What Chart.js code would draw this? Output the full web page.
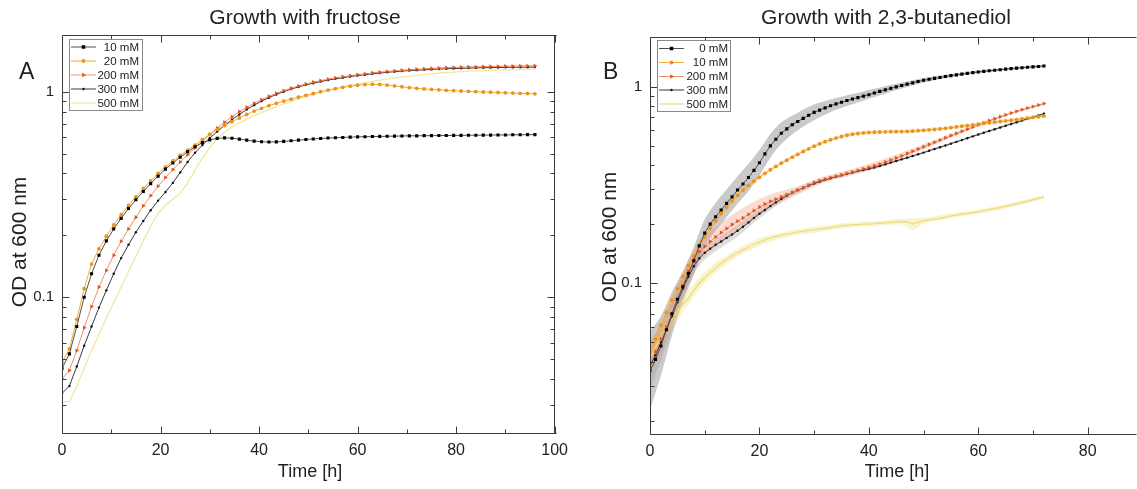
<!DOCTYPE html>
<html><head><meta charset="utf-8">
<script src="https://cdn.jsdelivr.net/npm/chart.js@4.4.0/dist/chart.umd.min.js"></script>
<style>
html,body{margin:0;padding:0;background:#fff;width:1137px;height:489px;overflow:hidden}
canvas{position:absolute;top:0}
#ca{left:0}
#cb{left:590px}
</style></head><body>
<canvas id="ca" width="575" height="489"></canvas>
<canvas id="cb" width="547" height="489"></canvas>
<script>
// ---------------- Panel A: growth with fructose ----------------
const tA = [0,1.5,3,4.5,6,7.5,9,10.5,12,13.5,15,16.5,18,19.5,21,22.5,24,25.5,27,28.5,30,31.5,33,34.5,36,37.5,39,40.5,42,43.5,45,46.5,48,49.5,51,52.5,54,55.5,57,58.5,60,61.5,63,64.5,66,67.5,69,70.5,72,73.5,75,76.5,78,79.5,81,82.5,84,85.5,87,88.5,90,91.5,93,94.5,96];
const a10 = [0.045,0.053,0.072,0.1,0.13,0.16,0.188,0.215,0.242,0.27,0.298,0.327,0.357,0.388,0.42,0.45,0.48,0.51,0.54,0.565,0.583,0.593,0.596,0.594,0.588,0.581,0.575,0.571,0.569,0.57,0.573,0.577,0.581,0.585,0.589,0.592,0.595,0.597,0.599,0.601,0.603,0.604,0.605,0.606,0.607,0.608,0.609,0.61,0.61,0.611,0.611,0.612,0.612,0.613,0.613,0.614,0.614,0.615,0.615,0.616,0.616,0.617,0.617,0.618,0.618];
const a20 = [0.048,0.056,0.078,0.11,0.145,0.172,0.198,0.225,0.252,0.28,0.308,0.338,0.368,0.4,0.43,0.46,0.49,0.52,0.55,0.585,0.62,0.655,0.685,0.715,0.745,0.775,0.805,0.83,0.855,0.878,0.9,0.92,0.94,0.96,0.98,1.0,1.018,1.035,1.05,1.064,1.075,1.083,1.087,1.085,1.077,1.067,1.057,1.047,1.039,1.032,1.026,1.021,1.016,1.012,1.008,1.004,1.0,0.997,0.994,0.991,0.988,0.985,0.982,0.98,0.977];
const a200 = [0.04,0.044,0.055,0.071,0.09,0.112,0.135,0.16,0.187,0.215,0.245,0.278,0.312,0.347,0.382,0.418,0.455,0.493,0.533,0.575,0.62,0.665,0.71,0.755,0.8,0.84,0.878,0.915,0.95,0.982,1.012,1.04,1.066,1.09,1.112,1.132,1.151,1.168,1.183,1.197,1.21,1.222,1.234,1.245,1.255,1.264,1.272,1.279,1.286,1.292,1.298,1.303,1.308,1.312,1.316,1.319,1.322,1.325,1.327,1.329,1.331,1.333,1.334,1.335,1.336];
const a300 = [0.034,0.037,0.046,0.058,0.072,0.089,0.108,0.13,0.155,0.18,0.207,0.235,0.265,0.295,0.325,0.36,0.405,0.455,0.505,0.55,0.595,0.64,0.685,0.73,0.775,0.82,0.86,0.9,0.935,0.97,1.0,1.03,1.055,1.08,1.1,1.12,1.14,1.155,1.17,1.185,1.198,1.21,1.222,1.233,1.243,1.252,1.26,1.267,1.273,1.279,1.284,1.289,1.293,1.297,1.3,1.303,1.306,1.308,1.31,1.312,1.314,1.315,1.316,1.317,1.318];
const a500 = [0.031,0.031,0.037,0.045,0.055,0.066,0.079,0.094,0.112,0.133,0.158,0.188,0.222,0.255,0.28,0.3,0.32,0.36,0.415,0.475,0.535,0.59,0.635,0.672,0.705,0.735,0.765,0.79,0.818,0.845,0.872,0.898,0.922,0.946,0.968,0.99,1.012,1.032,1.052,1.072,1.09,1.107,1.123,1.138,1.152,1.165,1.178,1.19,1.2,1.21,1.22,1.23,1.238,1.246,1.253,1.259,1.264,1.268,1.272,1.275,1.278,1.28,1.282,1.284,1.285];
const labelsA = ['10 mM','20 mM','200 mM','300 mM','500 mM'];
const titleA = 'Growth with fructose';

// ---------------- Panel B: growth with 2,3-butanediol ----------------
const tB = [0,1,2,3,4,5,6,7,8,9,10,11,12,13,14,15,16,17,18,19,20,21,22,23,24,25,26,27,28,29,30,31,32,33,34,35,36,37,38,39,40,41,42,43,44,45,46,47,48,49,50,51,52,53,54,55,56,57,58,59,60,61,62,63,64,65,66,67,68,69,70,71,72];
const b0 = [0.036,0.041,0.048,0.058,0.07,0.083,0.096,0.112,0.13,0.155,0.18,0.2,0.218,0.236,0.255,0.275,0.298,0.32,0.345,0.375,0.41,0.455,0.5,0.54,0.58,0.61,0.64,0.665,0.69,0.715,0.74,0.76,0.78,0.8,0.817,0.833,0.85,0.865,0.88,0.895,0.91,0.928,0.946,0.963,0.98,0.997,1.013,1.03,1.046,1.062,1.078,1.09,1.102,1.114,1.126,1.138,1.148,1.158,1.168,1.178,1.188,1.196,1.204,1.212,1.22,1.228,1.235,1.242,1.249,1.255,1.261,1.267,1.273];
const b10 = [0.045,0.052,0.061,0.071,0.082,0.094,0.108,0.123,0.138,0.155,0.172,0.19,0.208,0.226,0.244,0.262,0.28,0.298,0.315,0.33,0.346,0.362,0.378,0.393,0.408,0.423,0.438,0.453,0.468,0.483,0.498,0.512,0.525,0.537,0.548,0.558,0.566,0.573,0.578,0.582,0.585,0.587,0.588,0.589,0.59,0.59,0.591,0.592,0.594,0.597,0.6,0.603,0.606,0.61,0.614,0.619,0.624,0.629,0.634,0.639,0.645,0.65,0.655,0.66,0.665,0.67,0.675,0.68,0.686,0.692,0.698,0.704,0.71];
const b200 = [0.04,0.045,0.052,0.06,0.07,0.082,0.097,0.115,0.132,0.145,0.154,0.163,0.172,0.181,0.19,0.199,0.207,0.215,0.224,0.234,0.244,0.253,0.261,0.268,0.275,0.282,0.289,0.297,0.305,0.316,0.326,0.333,0.339,0.345,0.35,0.356,0.362,0.368,0.375,0.382,0.389,0.396,0.404,0.414,0.424,0.434,0.445,0.457,0.469,0.482,0.495,0.508,0.521,0.535,0.549,0.564,0.578,0.593,0.608,0.623,0.639,0.655,0.671,0.687,0.703,0.718,0.734,0.749,0.764,0.778,0.792,0.806,0.82];
const b300 = [0.038,0.043,0.05,0.058,0.068,0.08,0.094,0.108,0.122,0.134,0.143,0.15,0.157,0.163,0.17,0.177,0.185,0.194,0.204,0.215,0.226,0.236,0.247,0.258,0.268,0.279,0.289,0.298,0.306,0.314,0.322,0.329,0.336,0.342,0.348,0.354,0.36,0.366,0.372,0.377,0.382,0.388,0.395,0.403,0.411,0.419,0.427,0.435,0.444,0.453,0.462,0.472,0.482,0.492,0.502,0.513,0.524,0.535,0.547,0.559,0.571,0.583,0.595,0.607,0.62,0.633,0.646,0.659,0.672,0.686,0.7,0.714,0.728];
const b500 = [0.042,0.047,0.053,0.06,0.066,0.072,0.078,0.084,0.092,0.1,0.107,0.113,0.12,0.126,0.132,0.138,0.143,0.148,0.153,0.158,0.162,0.166,0.17,0.173,0.176,0.178,0.18,0.182,0.184,0.186,0.187,0.189,0.19,0.192,0.194,0.196,0.197,0.198,0.199,0.2,0.2,0.201,0.202,0.203,0.204,0.205,0.206,0.206,0.2,0.204,0.208,0.21,0.212,0.214,0.217,0.22,0.222,0.225,0.227,0.229,0.231,0.234,0.237,0.24,0.243,0.246,0.25,0.254,0.258,0.262,0.266,0.27,0.275];
const labelsB = ['0 mM','10 mM','200 mM','300 mM','500 mM'];
const titleB = 'Growth with 2,3-butanediol';

// shaded ranges (panel B)
const band0T  = [0,2,4,6,8,10,12,14,16,18,20,22,24,27,30,34,38,42,46,50,55,60,66,72];
const band0Lo = [0.0227,0.034,0.054,0.08,0.1106,0.1532,0.1855,0.217,0.2536,0.2936,0.353,0.4355,0.511,0.5998,0.6749,0.7623,0.8307,0.9034,0.9786,1.0489,1.117,1.169,1.218,1.256];
const band0Hi = [0.057,0.068,0.09,0.115,0.1528,0.2115,0.2562,0.2996,0.3502,0.4054,0.476,0.574,0.6583,0.7375,0.811,0.8758,0.9319,0.9905,1.0485,1.1082,1.159,1.207,1.252,1.291];
const band300T  = [0,2,4,6,8,10,13,16,19,22,25,30,36,42,50,60,72];
const band300Lo = [0.0288,0.0406,0.0579,0.0838,0.1113,0.132,0.152,0.1726,0.203,0.2359,0.2695,0.3146,0.3535,0.3879,0.4555,0.563,0.718];
const band300Hi = [0.0501,0.0615,0.0799,0.1055,0.1337,0.155,0.1747,0.1983,0.2277,0.2586,0.2888,0.3294,0.3668,0.4025,0.4685,0.579,0.738];
const band200T  = [0,3,6,9,12,15,18,21,24,28,32,36,40,44,48,52,56,60,66,72];
const band200Lo = [0.0333,0.0523,0.0855,0.1283,0.1535,0.1776,0.2,0.2318,0.2568,0.2913,0.3275,0.3497,0.3732,0.4068,0.4531,0.5069,0.5647,0.6275,0.7237,0.8085];
const band200Hi = [0.0481,0.0689,0.1100,0.1639,0.1927,0.223,0.2509,0.2762,0.2946,0.3193,0.3509,0.3747,0.4053,0.4418,0.4854,0.5356,0.5913,0.6511,0.7443,0.8315];
const band10T  = [0,4,8,12,18,24,30,36,42,50,60,72];
const band10Lo = [0.041,0.0765,0.1318,0.2009,0.3065,0.3987,0.4866,0.5531,0.5746,0.5863,0.6303,0.6938];
const band10Hi = [0.0493,0.0879,0.1445,0.2153,0.3238,0.4175,0.5096,0.5792,0.6017,0.614,0.66,0.7265];
const band500T  = [0,3,6,9,12,16,20,25,30,36,42,46,48,50,55,60,66,72];
const band500Lo = [0.0366,0.0535,0.0711,0.0933,0.1133,0.1366,0.1547,0.1719,0.1806,0.1917,0.1965,0.199,0.1866,0.2009,0.2141,0.2248,0.2443,0.2687];
const band500Hi = [0.0482,0.0673,0.0855,0.1072,0.1271,0.1497,0.1696,0.1842,0.1935,0.2025,0.2077,0.2132,0.2144,0.2153,0.2262,0.2375,0.2558,0.2813];

// axis ticks
const xTicksA = [0,20,40,60,80,100];
const xMinorA = [10,30,50,70,90];
const xTicksB = [0,20,40,60,80];
const xMinorB = [10,30,50,70];
const yTicks = [0.1,1];
const yMinorA = [0.03,0.04,0.05,0.06,0.07,0.08,0.09,0.2,0.3,0.4,0.5,0.6,0.7,0.8,0.9];
const yMinorB = [0.02,0.03,0.04,0.05,0.06,0.07,0.08,0.09,0.2,0.3,0.4,0.5,0.6,0.7,0.8,0.9];
const xTitle = 'Time [h]';
const yTitle = 'OD at 600 nm';

// ---------------- styling ----------------
const FONT = "'Liberation Sans', Arial, sans-serif";
const stylesA = [
  {line:'#505050', pt:'#000', ps:'rect', r:2.2, rot:0, w:1},
  {line:'#F2AA3A', pt:'#E8951A', ps:'circle', r:1.9, rot:0, w:1},
  {line:'#F0916A', pt:'#E2541F', ps:'triangle', r:2.5, rot:90, w:1},
  {line:'#3a3a3a', pt:'#111', ps:'circle', r:1.2, rot:0, w:1},
  {line:'#F2E7A2', pt:'#F2E7A2', ps:'circle', r:0, rot:0, w:1.3}
];
const stylesB = [
  {line:'#505050', pt:'#000', ps:'rect', r:2.2, rot:0, w:1},
  {line:'#F2AA3A', pt:'#E8951A', ps:'circle', r:1.9, rot:0, w:1},
  {line:'#F0916A', pt:'#E2541F', ps:'triangle', r:2.5, rot:90, w:1},
  {line:'#3a3a3a', pt:'#111', ps:'circle', r:1.2, rot:0, w:1},
  {line:'#EEDD78', pt:'#EEDD78', ps:'circle', r:0, rot:0, w:1.3}
];

function pts(t, v){ return t.map((x,i)=>({x:x, y:v[i]})); }
function series(label, t, v, s){
  return {label:label, data:pts(t,v), borderColor:s.line, borderWidth:s.w,
    pointStyle:s.ps, pointRadius:s.r, pointRotation:s.rot, pointBackgroundColor:s.pt,
    pointBorderColor:s.pt, pointBorderWidth:0, pointHoverRadius:0, tension:0, fill:false};
}
function band(t, lo, hi, color){
  return [
    {label:'_lo', data:pts(t,lo), borderWidth:0, borderColor:'rgba(0,0,0,0)', pointRadius:0, fill:false, tension:0.3},
    {label:'_hi', data:pts(t,hi), borderWidth:0, borderColor:'rgba(0,0,0,0)', pointRadius:0, fill:'-1', backgroundColor:color, tension:0.3}
  ];
}

function drawMarker(ctx, s, cx, cy){
  if (!s.r) return;
  ctx.fillStyle = s.pt;
  ctx.beginPath();
  const r = s.r;
  if (s.ps === 'rect') { ctx.rect(cx-r*0.8, cy-r*0.8, r*1.6, r*1.6); }
  else if (s.ps === 'triangle') { ctx.moveTo(cx+r, cy); ctx.lineTo(cx-r*0.5, cy-r*0.87); ctx.lineTo(cx-r*0.5, cy+r*0.87); ctx.closePath(); }
  else { ctx.arc(cx, cy, r, 0, Math.PI*2); }
  ctx.fill();
}

const deco = {
  id:'deco',
  afterDraw(chart, _a, o){
    const ctx = chart.ctx, a = chart.chartArea, xs = chart.scales.x, ys = chart.scales.y;
    ctx.save();
    const L = Math.round(a.left)+0.5, T = Math.round(a.top)+0.5, B = Math.round(a.bottom)-0.5, R = Math.round(a.right)-0.5;
    ctx.strokeStyle = '#3c3c3c'; ctx.lineWidth = 1;
    ctx.beginPath();
    ctx.moveTo(a.right+2, T); ctx.lineTo(L, T); ctx.lineTo(L, B); ctx.lineTo(a.right+2, B);
    if (o.rightFrame) { ctx.moveTo(R, T); ctx.lineTo(R, B); }
    ctx.stroke();
    ctx.beginPath();
    const tk = (list, len) => list.forEach(v => {
      const p = Math.round(xs.getPixelForValue(v))+0.5;
      ctx.moveTo(p, B); ctx.lineTo(p, B-len);
      ctx.moveTo(p, T); ctx.lineTo(p, T+len);
    });
    tk(o.xMajor, 7); tk(o.xMinor, 4);
    const tky = (list, len) => list.forEach(v => {
      const p = Math.round(ys.getPixelForValue(v))+0.5;
      ctx.moveTo(L, p); ctx.lineTo(L+len, p);
      if (o.rightFrame) { ctx.moveTo(R, p); ctx.lineTo(R-len, p); }
    });
    tky(o.yMajor, 7); tky(o.yMinor, 4);
    ctx.stroke();

    ctx.fillStyle = '#222';
    ctx.textAlign = 'center'; ctx.textBaseline = 'middle';
    ctx.font = '21px ' + FONT;
    ctx.fillText(o.title, o.titleX, 18);
    ctx.font = '18px ' + FONT;
    ctx.fillText(xTitle, o.xTitleX, 472);
    ctx.save();
    ctx.translate(o.yTitleX, o.yTitleY); ctx.rotate(-Math.PI/2);
    ctx.font = '21px ' + FONT;
    ctx.fillText(yTitle, 0, 0);
    ctx.restore();
    ctx.textAlign = 'left'; ctx.textBaseline = 'alphabetic';
    ctx.font = '23px ' + FONT;
    ctx.fillText(o.letter, o.letterX, 79);

    // legend
    const lg = o.legend;
    ctx.fillStyle = '#fff';
    ctx.fillRect(lg.x, lg.y, lg.w, lg.h);
    ctx.strokeStyle = '#8a8a8a'; ctx.lineWidth = 1;
    ctx.strokeRect(lg.x+0.5, lg.y+0.5, lg.w, lg.h);
    ctx.font = '11.5px ' + FONT;
    ctx.textAlign = 'right'; ctx.textBaseline = 'middle';
    o.labels.forEach((lab, i) => {
      const s = o.styles[i];
      const yy = lg.rows[i];
      ctx.strokeStyle = s.line; ctx.lineWidth = s.w;
      ctx.beginPath(); ctx.moveTo(lg.l0, yy+0.5); ctx.lineTo(lg.l1, yy+0.5); ctx.stroke();
      drawMarker(ctx, s, (lg.l0+lg.l1)/2, yy+0.5);
      ctx.fillStyle = '#222';
      ctx.fillText(lab, lg.tx, yy+1);
    });
    ctx.restore();
  }
};

function makeChart(id, datasets, cfg){
  return new Chart(document.getElementById(id), {
    type:'line',
    data:{datasets:datasets},
    plugins:[deco],
    options:{
      responsive:false, animation:false, events:[],
      layout:{padding:{top:cfg.top, right:cfg.right, left:0, bottom:0}},
      scales:{
        x:{type:'linear', min:cfg.xmin, max:cfg.xmax,
           afterFit:s=>{ s.height = cfg.xh; },
           afterBuildTicks:s=>{ s.ticks = cfg.xTicks.map(v=>({value:v})); },
           grid:{display:false, drawTicks:false}, border:{display:false},
           ticks:{padding:7, color:'#222', font:{family:FONT, size:16}, maxRotation:0, autoSkip:false, callback:v=>String(v)}},
        y:{type:'logarithmic', min:cfg.ymin, max:cfg.ymax,
           afterFit:s=>{ s.width = cfg.yw; },
           afterBuildTicks:s=>{ s.ticks = yTicks.map(v=>({value:v})); },
           grid:{display:false, drawTicks:false}, border:{display:false},
           ticks:{padding:cfg.ypad, color:'#222', font:{family:FONT, size:15}, autoSkip:false, callback:v=>String(v)}}
      },
      plugins:{legend:{display:false}, title:{display:false}, tooltip:{enabled:false},
        deco:cfg.deco}
    }
  });
}

const dsA = [
  series(labelsA[0], tA, a10, stylesA[0]),
  series(labelsA[1], tA, a20, stylesA[1]),
  series(labelsA[2], tA, a200, stylesA[2]),
  series(labelsA[3], tA, a300, stylesA[3]),
  series(labelsA[4], tA, a500, stylesA[4])
];
makeChart('ca', dsA, {top:35, right:18, xh:55, yw:62, ypad:8, xmin:0, xmax:100, ymin:0.02159, ymax:1.888, xTicks:xTicksA,
  deco:{rightFrame:true, xMajor:xTicksA, xMinor:xMinorA, yMajor:yTicks, yMinor:yMinorA,
    title:titleA, titleX:305, xTitleX:310, yTitleX:20, yTitleY:242, letter:'A', letterX:19,
    labels:labelsA, styles:stylesA,
    legend:{x:69, y:39, w:73, h:71, rows:[46.5,60.5,74.5,88.5,102.5], l0:71, l1:96, tx:139}}});

const dsB = [
  series(labelsB[0], tB, b0, stylesB[0]),
  series(labelsB[1], tB, b10, stylesB[1]),
  series(labelsB[2], tB, b200, stylesB[2]),
  series(labelsB[3], tB, b300, stylesB[3]),
  series(labelsB[4], tB, b500, stylesB[4])
].concat(
  band(band10T, band10Lo, band10Hi, 'rgba(245,175,70,0.22)'),
  band(band200T, band200Lo, band200Hi, 'rgba(240,140,110,0.3)'),
  band(band500T, band500Lo, band500Hi, 'rgba(240,222,120,0.35)'),
  band(band300T, band300Lo, band300Hi, 'rgba(160,160,160,0.35)'),
  band(band0T, band0Lo, band0Hi, 'rgba(150,150,150,0.5)')
);
makeChart('cb', dsB, {top:37, right:0, xh:54, yw:60, ypad:8, xmin:0, xmax:88.55, ymin:0.01692, ymax:1.789, xTicks:xTicksB,
  deco:{rightFrame:false, xMajor:xTicksB, xMinor:xMinorB, yMajor:yTicks, yMinor:yMinorB,
    title:titleB, titleX:296, xTitleX:307, yTitleX:20, yTitleY:237, letter:'B', letterX:13,
    labels:labelsB, styles:stylesB,
    legend:{x:67, y:40, w:73, h:71, rows:[48,62,76,89.5,103.5], l0:69, l1:94, tx:138}}});
</script>
</body></html>
